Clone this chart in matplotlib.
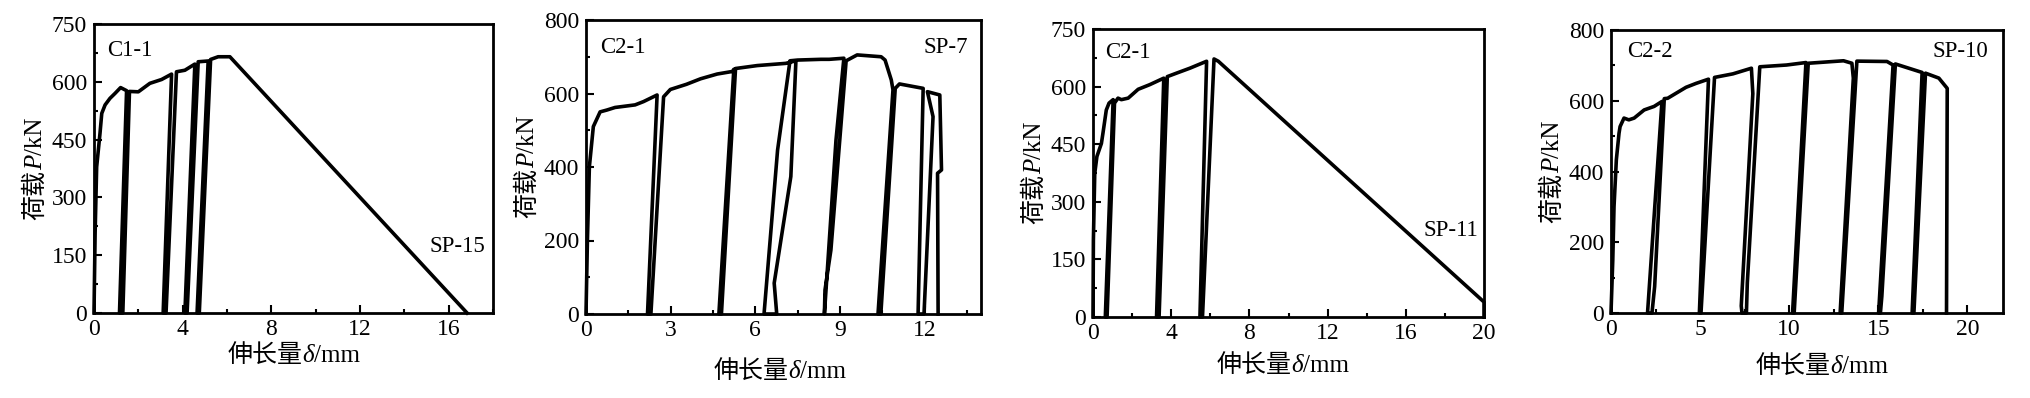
import numpy as np
import matplotlib
matplotlib.use("Agg")
import matplotlib.pyplot as plt
from matplotlib.ticker import MultipleLocator
from matplotlib.transforms import IdentityTransform

# ---- data ----
p1_x = [0, 0.05, 0.12, 0.27, 0.35, 0.5, 0.72, 0.95, 1.2, 1.47, 1.15, 1.3, 1.6, 2.0, 2.52, 3.05, 3.5,
        3.12, 3.25, 3.72, 4.1, 4.55, 4.1, 4.2, 4.7, 5.15, 4.65, 4.75, 5.26, 5.6, 6.13, 16.83]
p1_y = [0, 206, 379, 466, 518, 540, 557, 570, 585, 577, 0, 0, 575, 574, 596, 606, 620,
        0, 0, 626, 630, 646, 0, 0, 652, 654, 0, 0, 658, 665, 665, 0]

p2_x = [0, 0.05, 0.12, 0.26, 0.5, 0.74, 1.03, 1.74, 2.04, 2.52, 2.18, 2.3, 2.75, 2.99, 3.56, 4.06,
        4.65, 5.19, 5.24, 4.71, 4.8, 5.3, 6.07, 7.08, 7.44, 7.26, 6.67, 6.76, 6.31, 6.79, 7.23, 7.5,
        8.33, 8.62, 9.14, 8.86, 8.45, 8.47, 8.68, 9.22, 9.61, 10.46, 10.6, 10.82, 10.88, 10.35, 10.45,
        10.96, 11.11, 11.95, 11.77, 11.98, 12.3, 12.1, 12.54, 12.6, 12.46, 12.48]
p2_y = [0, 200, 401, 510, 550, 555, 562, 569, 578, 596, 0, 0, 591, 611, 625, 640,
        653, 660, 666, 0, 0, 668, 676, 682, 689, 374, 84, 0, 0, 446, 689, 691,
        693, 693, 696, 473, 0, 65, 174, 689, 705, 700, 691, 637, 610, 0, 0,
        614, 626, 614, 0, 0, 537, 605, 596, 392, 383, 0]

p3_x = [0, 0.02, 0.09, 0.2, 0.43, 0.51, 0.68, 0.82, 1.03, 0.63, 0.72, 1.1, 1.28, 1.45, 1.8, 2.31,
        2.9, 3.62, 3.25, 3.38, 3.8, 4.27, 4.96, 5.81, 5.47, 5.6, 6.19, 6.41, 20, 20]
p3_y = [0, 200, 374, 418, 452, 479, 539, 557, 566, 0, 0, 557, 570, 566, 570, 593,
        605, 622, 0, 0, 626, 635, 648, 666, 0, 0, 672, 666, 39, 0]

p4_x = [0, 0.1, 0.17, 0.3, 0.45, 0.51, 0.73, 1.0, 1.3, 1.86, 2.42, 2.86, 2.05, 2.3, 2.45, 2.99,
        3.18, 4.21, 4.77, 5.47, 4.96, 5.05, 5.81, 6.84, 7.88, 7.96, 7.31, 7.35, 7.6, 7.65, 8.35,
        9.85, 10.94, 10.19, 10.28, 11.07, 12.48, 13.05, 13.52, 13.6, 12.86, 12.95, 13.8, 15.49,
        15.83, 15.02, 15.12, 15.2, 15.96, 16.71, 17.46, 16.9, 17.0, 17.65, 18.4, 18.87, 18.83]
p4_y = [0, 150, 301, 433, 508, 527, 551, 546, 551, 574, 584, 598, 0, 0, 75, 606,
        607, 638, 649, 661, 0, 0, 666, 676, 692, 620, 20, 0, 0, 85, 696,
        701, 708, 0, 0, 706, 711, 713, 706, 664, 0, 0, 712, 711,
        701, 0, 0, 47, 704, 692, 680, 0, 0, 678, 664, 635, 0]

series = [(p1_x, p1_y), (p2_x, p2_y), (p3_x, p3_y), (p4_x, p4_y)]
specimens = ["C1-1", "C2-1", "C2-1", "C2-2"]
plates = ["SP-15", "SP-7", "SP-11", "SP-10"]
xlims = [18, 14, 20, 22]
xsteps = [4, 3, 4, 5]
ylims = [750, 800, 750, 800]
ysteps = [150, 200, 150, 200]

# axes boxes in pixels (left, top, right, bottom) on a 2030x398 canvas
boxes = [(94, 24, 493, 313), (586, 20, 981, 314), (1093, 29, 1484, 317), (1611, 30, 2003, 313)]
plate_pos = [(0.98, 0.23), (0.968, 0.906), (0.985, 0.30), (0.963, 0.923)]
spec_pos = [(0.033, 0.91), (0.035, 0.906), (0.031, 0.92), (0.04, 0.923)]
xlab_drop = [49, 64, 55, 60]
xlab_shift = [0, -4, -6, 15]

W, H = 2030, 398
SERIF = "Liberation Serif"
CJK = "Noto Sans CJK SC"
FS = 18

plt.rcParams["font.family"] = [SERIF, CJK]
plt.rcParams["font.size"] = FS

fig = plt.figure(figsize=(W / 100, H / 100), dpi=100)
fig.patch.set_facecolor("white")


def rich_text(pieces, x, y, vertical=False):
    # pieces laid end to end on one baseline, centred on (x, y) in pixels
    r = fig.canvas.get_renderer()
    arts, widths = [], []
    for s, kw in pieces:
        t = fig.text(0, 0, s, transform=IdentityTransform(), ha="left", va="baseline",
                     fontsize=FS, **kw)
        widths.append(t.get_window_extent(r).width)
        arts.append(t)
    pos = -sum(widths) / 2
    for t, w in zip(arts, widths):
        if vertical:
            t.set_rotation(90)
            t.set_rotation_mode("anchor")
            t.set_position((x, y + pos))
        else:
            t.set_position((x + pos, y))
        pos += w


ylabel = [("荷载", dict(family=CJK)), ("P", dict(family=SERIF, style="italic")),
          ("/kN", dict(family=SERIF))]
xlabel = [("伸长量", dict(family=CJK)), ("δ", dict(family=SERIF, style="italic")),
          ("/mm", dict(family=SERIF))]

for i, (xs, ys) in enumerate(series):
    l, t, r, b = boxes[i]
    ax = fig.add_axes([l / W, (H - b) / H, (r - l) / W, (b - t) / H])
    ax.plot(xs, ys, color="black", lw=2.6, solid_joinstyle="round", clip_on=False)
    ax.set_xlim(0, xlims[i])
    ax.set_ylim(0, ylims[i])
    ax.xaxis.set_major_locator(MultipleLocator(xsteps[i]))
    ax.xaxis.set_minor_locator(MultipleLocator(xsteps[i] / 2))
    ax.yaxis.set_major_locator(MultipleLocator(ysteps[i]))
    ax.yaxis.set_minor_locator(MultipleLocator(ysteps[i] / 2))
    ax.tick_params(which="both", direction="in", top=False, right=False, width=1.5,
                   labelsize=17)
    ax.tick_params(axis="x", pad=4)
    ax.tick_params(axis="y", pad=5)
    ax.tick_params(which="major", length=6)
    ax.tick_params(which="minor", length=3)
    for sp in ax.spines.values():
        sp.set_linewidth(2)
    for lab in ax.get_xticklabels() + ax.get_yticklabels():
        lab.set_family(SERIF)
    ax.text(spec_pos[i][0], spec_pos[i][1], specimens[i], transform=ax.transAxes,
            ha="left", va="center", fontsize=16.5, family=SERIF)
    ax.text(plate_pos[i][0], plate_pos[i][1], plates[i], transform=ax.transAxes,
            ha="right", va="center", fontsize=16.5, family=SERIF)

    rich_text(ylabel, l - 52, H - (t + b) / 2, vertical=True)
    rich_text(xlabel, (l + r) / 2 + xlab_shift[i], H - b - xlab_drop[i])

fig.savefig("out.png", dpi=100)
